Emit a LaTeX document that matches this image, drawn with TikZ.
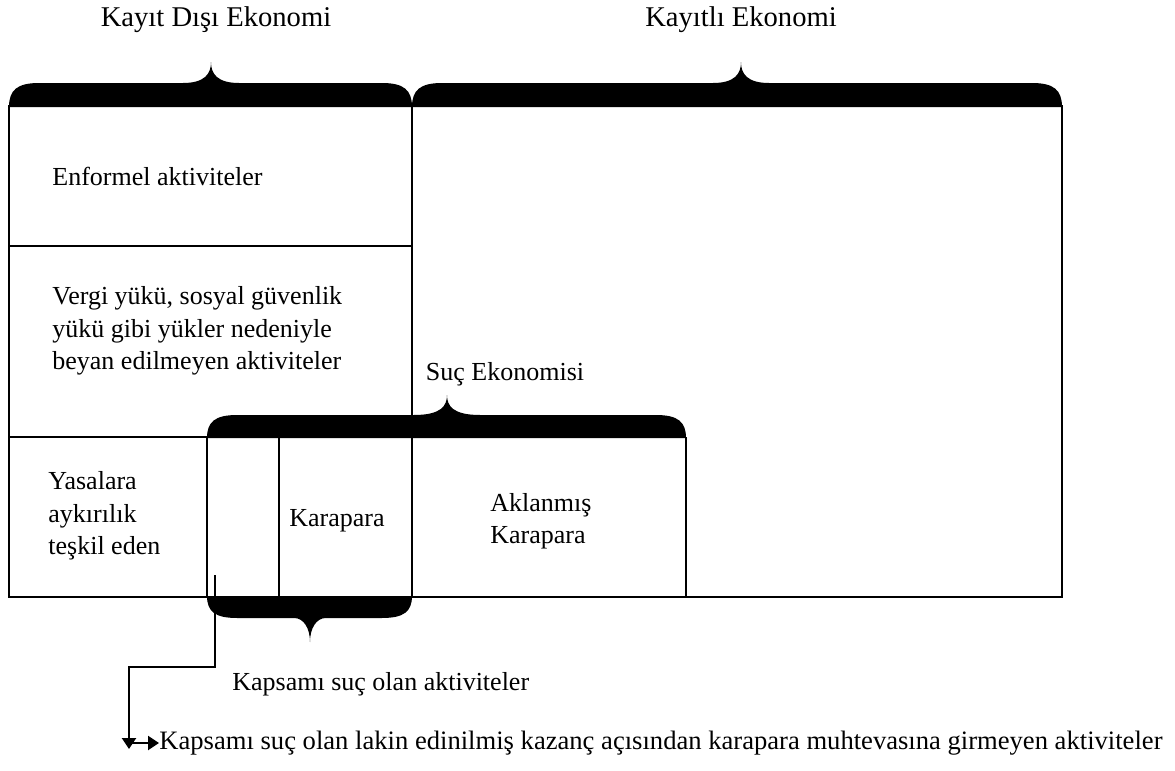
\documentclass[tikz,border=0pt]{standalone}
\usepackage{fontspec}
\setmainfont{Liberation Serif}
\usetikzlibrary{arrows.meta,positioning}

% filled curly brace: x1, x2, tip x, base y, flat y, tip y, tip half width
\newcommand{\blackbrace}[7]{%
  \fill (#1,#4) .. controls (#1,{#5+0.3*(#4-#5)}) and (#1+8,#5) .. (#1+30,#5)
    -- (#3-#7,#5) .. controls (#3-6,#5) and (#3,{#5+0.45*(#6-#5)}) .. (#3,#6)
    .. controls (#3,{#5+0.45*(#6-#5)}) and (#3+6,#5) .. (#3+#7,#5)
    -- (#2-30,#5) .. controls (#2-8,#5) and (#2,{#5+0.3*(#4-#5)}) .. (#2,#4) -- cycle;}

\begin{document}
\begin{tikzpicture}[x=0.5pt, y=-0.5pt,
  lbl/.style={inner sep=0pt, font=\fontsize{13}{16.2}\selectfont},
  head/.style={inner sep=0pt, font=\fontsize{14.3}{17}\selectfont},
  cell/.style={line width=0.7pt},
  pointer/.style={line width=1.2pt, -{Triangle[length=5.5pt, width=7pt]}}]

\useasboundingbox (0,0) rectangle (1175,771);

% boxes
\draw[cell] (9,106) rectangle (1062,597);
\draw[cell] (412,106) -- (412,597);
\draw[cell] (9,246) -- (412,246);
\draw[cell] (9,437) -- (686,437);
\draw[cell] (207,437) -- (207,597);
\draw[cell] (279,437) -- (279,597);
\draw[cell] (686,437) -- (686,597);

% braces
\blackbrace{9}{412}{211}{107}{83}{62}{28}
\blackbrace{412}{1062}{741}{107}{83}{62}{28}
\blackbrace{207}{686}{447}{438}{415}{395}{33}
\blackbrace{207}{412}{310}{596}{618}{642}{16}

% labels
\node[head] (kayitdisi) at (216,20) {Kayıt Dışı Ekonomi};
\node[head] (kayitli) at (741,20) {Kayıtlı Ekonomi};
\node[lbl, anchor=west] (enformel) at (52,176) {Enformel aktiviteler};
\node[lbl, anchor=west, align=left] (vergi) at (52,331)
  {Vergi yükü, sosyal güvenlik\\yükü gibi yükler nedeniyle\\beyan edilmeyen aktiviteler};
\node[lbl] (suc) at (505,374) {Suç Ekonomisi};
\node[lbl, anchor=west, align=left] (yasalara) at (48,516)
  {Yasalara\\aykırılık\\teşkil eden};
\node[lbl, anchor=west] (karapara) at (289,521) {Karapara};
\node[lbl, anchor=west, align=left] (aklanmis) at (490,521) {Aklanmış\\Karapara};
\node[lbl, anchor=west] (kapsam) at (232,684) {Kapsamı suç olan aktiviteler};
\node[lbl, anchor=west, font=\fontsize{13.3}{16}\selectfont] (lakin) at (159,743)
  {Kapsamı suç olan lakin edinilmiş kazanç açısından karapara muhtevasına girmeyen aktiviteler};

% pointer to the lower text
\coordinate (mark) at (215,575);
\coordinate (bend) at (129,667);
\coordinate (drop) at (129,749);
\coordinate (kick) at (130,743);
\draw[pointer] (mark) |- (bend) -- (drop);
\draw[pointer] (kick) -- (lakin.west);

\end{tikzpicture}
\end{document}
